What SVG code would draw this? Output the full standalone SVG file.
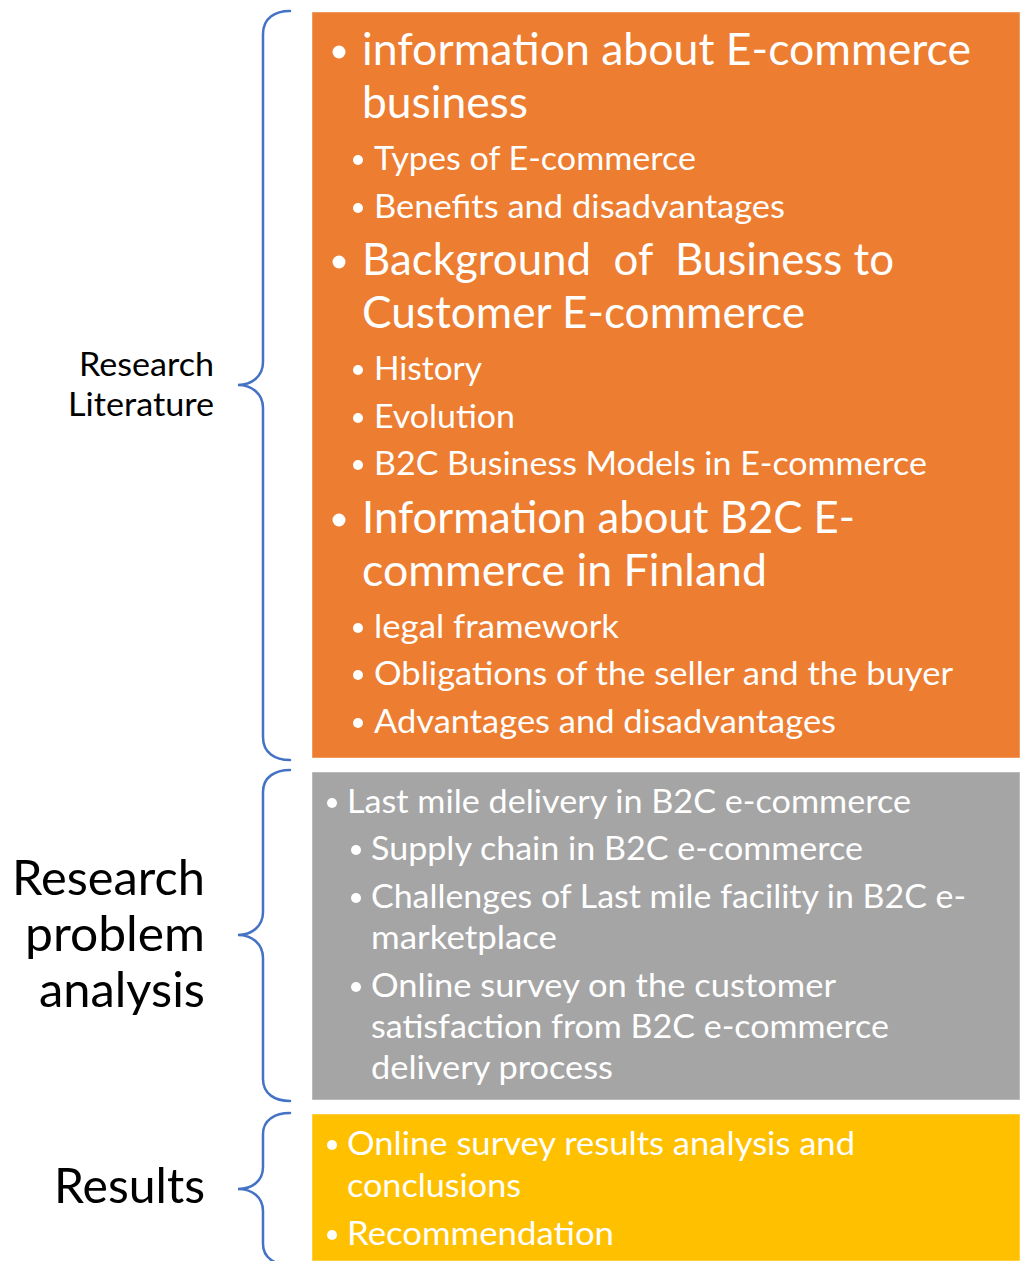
<svg xmlns="http://www.w3.org/2000/svg" width="1020" height="1261" viewBox="0 0 1020 1261">
  <style>
    text { font-family: Lato, "Open Sans", "Liberation Sans", sans-serif; white-space: pre; }
    .box-text { fill: #ffffff; }
    .lvl1 { font-size: 44px; }
    .lvl2 { font-size: 33.5px; }
    .lbl-s { font-size: 33px; fill: #000000; text-anchor: end; }
    .lbl-l { font-size: 48px; fill: #000000; text-anchor: end; }
    .brace { fill: none; stroke: #4472C4; stroke-width: 2.5; stroke-linecap: round; }
    .dot { fill: #ffffff; }
    .panel { stroke: #ffffff; stroke-opacity: 0.45; stroke-width: 1; }
  </style>

  <rect width="1020" height="1261" fill="#ffffff"/>

  <!-- curly braces joining each label to its panel -->
  <g id="connectors">
    <path class="brace" d="M290,11 C275,11 263,18 263,34 L263,362 C263,376 252,385 238,385 C252,385 263,394 263,408 L263,737 C263,753 275,760 290,760"/>
    <path class="brace" d="M290,770 C275,770 263,777 263,792 L263,912 C263,926 252,935 238,935 C252,935 263,944 263,958 L263,1079 C263,1094 275,1101 290,1101"/>
    <path class="brace" d="M290,1113 C275,1113 263,1120 263,1134 L263,1167 C263,1181 252,1189 238,1189 C252,1189 263,1197 263,1211 L263,1244 C263,1258 275,1265 290,1265"/>
  </g>

  <!-- Research Literature -->
  <g id="label-literature">
    <text class="lbl-s" x="214" y="376" textLength="135" lengthAdjust="spacingAndGlyphs">Research</text>
    <text class="lbl-s" x="214" y="416" textLength="146" lengthAdjust="spacingAndGlyphs">Literature</text>
  </g>

  <g id="panel-literature">
    <rect class="panel" x="312" y="12" width="708" height="746" fill="#ED7D31"/>
    <g class="box-text">
      <circle class="dot" cx="339" cy="52" r="6.5"/>
      <text class="lvl1" x="362" y="65" textLength="609" lengthAdjust="spacingAndGlyphs">information about E-commerce</text>
      <text class="lvl1" x="362" y="118" textLength="166" lengthAdjust="spacingAndGlyphs">business</text>
      <circle class="dot" cx="358" cy="160" r="5"/>
      <text class="lvl2" x="374" y="170" textLength="322" lengthAdjust="spacingAndGlyphs">Types of E-commerce</text>
      <circle class="dot" cx="358" cy="208" r="5"/>
      <text class="lvl2" x="374" y="218" textLength="411" lengthAdjust="spacingAndGlyphs">Benefits and disadvantages</text>

      <circle class="dot" cx="339" cy="262" r="6.5"/>
      <text class="lvl1" x="362" y="275" textLength="532" lengthAdjust="spacingAndGlyphs">Background  of  Business to</text>
      <text class="lvl1" x="362" y="328" textLength="443" lengthAdjust="spacingAndGlyphs">Customer E-commerce</text>
      <circle class="dot" cx="358" cy="370" r="5"/>
      <text class="lvl2" x="374" y="380" textLength="108" lengthAdjust="spacingAndGlyphs">History</text>
      <circle class="dot" cx="358" cy="418" r="5"/>
      <text class="lvl2" x="374" y="428" textLength="141" lengthAdjust="spacingAndGlyphs">Evolution</text>
      <circle class="dot" cx="358" cy="465" r="5"/>
      <text class="lvl2" x="374" y="475" textLength="553" lengthAdjust="spacingAndGlyphs">B2C Business Models in E-commerce</text>

      <circle class="dot" cx="339" cy="520" r="6.5"/>
      <text class="lvl1" x="362" y="533" textLength="493" lengthAdjust="spacingAndGlyphs">Information about B2C E-</text>
      <text class="lvl1" x="362" y="586" textLength="405" lengthAdjust="spacingAndGlyphs">commerce in Finland</text>
      <circle class="dot" cx="358" cy="628" r="5"/>
      <text class="lvl2" x="374" y="638" textLength="245" lengthAdjust="spacingAndGlyphs">legal framework</text>
      <circle class="dot" cx="358" cy="675" r="5"/>
      <text class="lvl2" x="374" y="685" textLength="579" lengthAdjust="spacingAndGlyphs">Obligations of the seller and the buyer</text>
      <circle class="dot" cx="358" cy="723" r="5"/>
      <text class="lvl2" x="374" y="733" textLength="462" lengthAdjust="spacingAndGlyphs">Advantages and disadvantages</text>
    </g>
  </g>

  <!-- Research problem analysis -->
  <g id="label-problem">
    <text class="lbl-l" x="205" y="895" textLength="193" lengthAdjust="spacingAndGlyphs">Research</text>
    <text class="lbl-l" x="205" y="951" textLength="180" lengthAdjust="spacingAndGlyphs">problem</text>
    <text class="lbl-l" x="205" y="1007" textLength="166" lengthAdjust="spacingAndGlyphs">analysis</text>
  </g>

  <g id="panel-problem">
    <rect class="panel" x="312" y="772" width="708" height="328" fill="#A5A5A5"/>
    <g class="box-text">
      <circle class="dot" cx="332" cy="803" r="5"/>
      <text class="lvl2" x="347" y="813" textLength="564" lengthAdjust="spacingAndGlyphs">Last mile delivery in B2C e-commerce</text>
      <circle class="dot" cx="356" cy="850" r="5"/>
      <text class="lvl2" x="371" y="860" textLength="492" lengthAdjust="spacingAndGlyphs">Supply chain in B2C e-commerce</text>
      <circle class="dot" cx="356" cy="898" r="5"/>
      <text class="lvl2" x="371" y="908" textLength="595" lengthAdjust="spacingAndGlyphs">Challenges of Last mile facility in B2C e-</text>
      <text class="lvl2" x="371" y="949" textLength="186" lengthAdjust="spacingAndGlyphs">marketplace</text>
      <circle class="dot" cx="356" cy="987" r="5"/>
      <text class="lvl2" x="371" y="997" textLength="465" lengthAdjust="spacingAndGlyphs">Online survey on the customer</text>
      <text class="lvl2" x="371" y="1038" textLength="518" lengthAdjust="spacingAndGlyphs">satisfaction from B2C e-commerce</text>
      <text class="lvl2" x="371" y="1079" textLength="242" lengthAdjust="spacingAndGlyphs">delivery process</text>
    </g>
  </g>

  <!-- Results -->
  <g id="label-results">
    <text class="lbl-l" x="205" y="1203" textLength="151" lengthAdjust="spacingAndGlyphs">Results</text>
  </g>

  <g id="panel-results">
    <rect class="panel" x="312" y="1114" width="708" height="147" fill="#FFC000"/>
    <g class="box-text">
      <circle class="dot" cx="332" cy="1145" r="5"/>
      <text class="lvl2" x="347" y="1155" textLength="508" lengthAdjust="spacingAndGlyphs">Online survey results analysis and</text>
      <text class="lvl2" x="347" y="1197" textLength="174" lengthAdjust="spacingAndGlyphs">conclusions</text>
      <circle class="dot" cx="332" cy="1235" r="5"/>
      <text class="lvl2" x="347" y="1245" textLength="267" lengthAdjust="spacingAndGlyphs">Recommendation</text>
    </g>
  </g>
</svg>
